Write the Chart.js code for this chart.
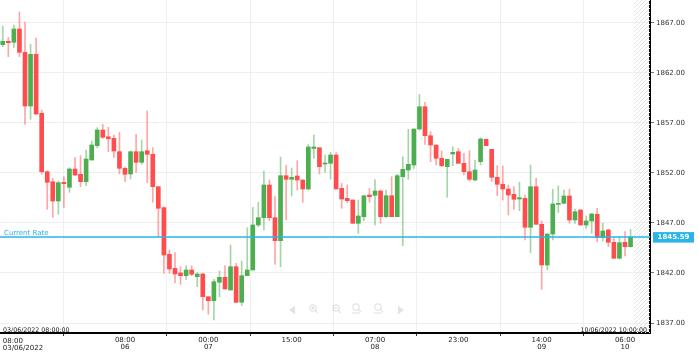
<!DOCTYPE html>
<html><head><meta charset="utf-8">
<script src="https://cdn.jsdelivr.net/npm/chart.js@4/dist/chart.umd.min.js"></script>
<style>html,body{margin:0;padding:0;background:#fff;overflow:hidden}canvas{display:block}</style>
</head><body>
<canvas id="c" width="699" height="356"></canvas>
<script>
const opens=[1864.83,1865.17,1865.07,1866.40,1864.07,1858.70,1863.87,1857.97,1852.13,1851.13,
1849.20,1851.07,1850.57,1852.40,1851.87,1851.13,1853.30,1854.73,1856.30,1855.63,
1855.47,1854.13,1852.47,1851.90,1854.13,1853.07,1854.23,1853.87,1850.63,1848.53,
1843.87,1842.47,1842.00,1841.73,1842.30,1841.63,1841.90,1839.63,1839.23,1841.07,
1841.57,1840.30,1842.63,1839.07,1841.73,1842.30,1846.80,1847.53,1850.80,1847.53,
1845.23,1851.73,1851.37,1851.70,1851.30,1850.40,1854.45,1854.53,1852.90,1852.97,
1853.80,1850.47,1849.47,1849.30,1846.97,1847.63,1849.80,1849.77,1850.20,1847.63,
1849.73,1847.63,1851.63,1852.30,1852.80,1856.40,1858.63,1855.73,1854.80,1853.47,
1852.63,1853.90,1854.13,1852.97,1852.13,1851.30,1853.13,1855.37,1854.37,1851.57,
1850.87,1850.40,1849.87,1849.40,1849.47,1846.57,1850.63,1846.87,1842.80,1845.90,
1848.87,1848.97,1849.70,1847.30,1848.30,1846.80,1847.20,1847.87,1845.53,1846.30,
1845.07,1843.47,1845.07,1844.63];
const highs=[1866.70,1865.57,1866.80,1868.10,1867.10,1864.87,1865.50,1858.30,1852.20,1851.47,
1851.20,1851.63,1852.53,1853.53,1853.73,1854.30,1855.20,1856.53,1856.87,1856.57,
1855.80,1856.07,1852.60,1854.20,1855.87,1855.30,1858.20,1854.53,1850.63,1848.63,
1844.30,1844.03,1842.63,1842.73,1842.73,1842.03,1841.97,1839.63,1841.37,1842.20,
1842.73,1844.80,1842.97,1843.20,1846.53,1848.57,1849.07,1852.20,1851.30,1849.63,
1853.60,1852.80,1852.50,1853.23,1851.30,1854.85,1855.80,1854.53,1853.80,1854.07,
1854.03,1850.97,1850.80,1849.30,1849.30,1849.73,1850.47,1851.35,1850.30,1850.30,
1851.63,1851.87,1853.63,1856.37,1856.40,1859.87,1859.07,1856.13,1854.80,1854.20,
1853.37,1854.63,1854.47,1853.97,1854.23,1853.30,1855.53,1855.37,1854.37,1852.73,
1852.70,1850.80,1850.63,1851.07,1849.80,1852.80,1851.47,1847.20,1845.90,1850.37,
1850.70,1850.30,1850.40,1848.40,1848.30,1847.70,1847.97,1848.47,1846.97,1846.40,
1845.47,1845.57,1846.13,1846.37];
const lows=[1864.63,1863.63,1864.57,1863.63,1856.87,1857.37,1857.85,1851.90,1848.37,1847.57,
1847.87,1848.57,1850.07,1851.73,1850.63,1850.73,1853.30,1854.53,1855.47,1854.13,
1853.53,1851.90,1851.13,1851.40,1852.07,1852.87,1851.03,1849.07,1845.63,1841.97,
1841.97,1841.03,1840.87,1841.37,1841.73,1840.63,1838.30,1837.87,1837.30,1839.63,
1840.40,1840.30,1839.07,1838.73,1841.73,1842.30,1846.63,1846.30,1847.23,1842.87,
1842.63,1847.30,1849.70,1850.30,1849.07,1850.30,1853.47,1851.90,1852.07,1851.37,
1850.40,1848.47,1849.03,1846.97,1845.97,1847.23,1849.07,1846.80,1846.97,1847.53,
1847.63,1847.63,1844.73,1851.37,1852.47,1856.30,1854.87,1853.13,1852.80,1852.63,
1849.57,1852.73,1852.97,1851.80,1851.20,1851.20,1852.80,1854.73,1851.13,1849.73,
1849.30,1847.80,1848.37,1848.23,1845.30,1844.03,1846.87,1840.37,1842.30,1845.30,
1848.03,1848.97,1846.97,1846.97,1846.80,1846.47,1845.97,1845.13,1845.20,1844.63,
1843.47,1843.40,1843.70,1844.57];
const closes=[1865.17,1865.03,1866.40,1864.07,1858.70,1863.87,1857.90,1852.13,1851.07,1849.20,
1851.03,1850.93,1852.40,1851.80,1851.13,1853.40,1854.80,1856.30,1855.57,1855.43,
1854.20,1852.47,1851.87,1854.13,1853.07,1854.13,1853.87,1850.63,1848.47,1843.80,
1842.40,1841.90,1841.73,1842.30,1841.87,1841.90,1839.63,1839.23,1841.13,1841.57,
1840.40,1842.63,1839.07,1841.73,1842.30,1846.80,1847.53,1850.80,1847.53,1845.23,
1851.73,1851.37,1851.57,1851.30,1850.40,1854.60,1854.60,1852.63,1853.00,1853.80,
1850.40,1849.40,1849.23,1846.97,1847.70,1849.73,1849.63,1850.20,1847.63,1849.73,
1847.63,1851.73,1852.37,1852.87,1856.40,1858.63,1855.73,1854.80,1853.47,1852.73,
1853.37,1854.07,1852.97,1852.13,1851.37,1852.30,1855.40,1854.73,1851.57,1850.87,
1850.40,1849.80,1849.37,1849.53,1846.57,1850.63,1846.87,1842.80,1845.90,1848.90,
1848.97,1849.70,1847.30,1848.13,1846.80,1847.20,1847.90,1845.53,1846.20,1845.07,
1843.47,1845.03,1844.63,1845.59];

const tickIndex=[0,22,37,52,67,82,97,112];
const tickTime=['08:00','08:00','00:00','15:00','07:00','23:00','14:00','06:00'];
const tickDate=['03/06/2022','06','07','','08','','09','10'];
const yTicks=[1837,1842,1847,1852,1857,1862,1867];
const currentRate=1845.59;
const startLabel='03/06/2022 08:00:00';
const endLabel='10/06/2022 10:00:00';
const rateLabel='Current Rate';
const emptySlots=3;

const UP='#4cae4f', DOWN='#ff4d4d';
const UPW='rgba(76,174,79,0.5)', DOWNW='rgba(255,77,77,0.5)';
const CYAN='#29b4e8';
const FONT='"DejaVu Sans", Verdana, sans-serif';
const n=opens.length;
const isUp=opens.map((o,i)=>closes[i]>=o);
const wickData=opens.map((o,i)=>({x:i,y:[lows[i],highs[i]]}));
const bodyData=opens.map((o,i)=>({x:i,y:[o,closes[i]]}));

function drawMag(ctx,cx,cy,kind){
  ctx.beginPath();ctx.arc(cx-1,cy-1,3.2,0,Math.PI*2);ctx.stroke();
  ctx.beginPath();ctx.moveTo(cx+1.3,cy+1.3);ctx.lineTo(cx+4,cy+4);ctx.stroke();
  if(kind==='+'||kind==='-'){ctx.beginPath();ctx.moveTo(cx-2.8,cy-1);ctx.lineTo(cx+0.8,cy-1);ctx.stroke();}
  if(kind==='+'){ctx.beginPath();ctx.moveTo(cx-1,cy-2.8);ctx.lineTo(cx-1,cy+0.8);ctx.stroke();}
  if(kind==='<>'){ctx.beginPath();ctx.moveTo(cx-5,cy+5);ctx.lineTo(cx+3,cy+5);ctx.stroke();}
}

const extras={
  id:'extras',
  beforeDatasetsDraw(chart){
    const {ctx,chartArea:a,scales:{x}}=chart;
    const x0=x.getPixelForValue(n-0.5)+1;
    ctx.save();
    ctx.beginPath();ctx.rect(x0,a.top,a.right-x0,a.bottom-a.top);ctx.clip();
    ctx.strokeStyle='#e4e4e4';ctx.lineWidth=1;
    const w=a.right-x0;
    for(let k=a.bottom+w+4;k>a.top-4;k-=4){
      ctx.beginPath();ctx.moveTo(x0-1,k);ctx.lineTo(a.right+1,k-w-2);ctx.stroke();
    }
    ctx.restore();
    ctx.save();
    ctx.strokeStyle='rgba(0,0,0,0.11)';ctx.fillStyle='rgba(0,0,0,0.11)';ctx.lineWidth=1.2;
    const iy=310;
    ctx.beginPath();ctx.moveTo(289,iy);ctx.lineTo(295,iy-4.5);ctx.lineTo(295,iy+4.5);ctx.closePath();ctx.fill();
    drawMag(ctx,314,iy-1,'+');
    drawMag(ctx,337,iy-1,'-');
    drawMag(ctx,357,iy-2,'<>');
    drawMag(ctx,379,iy-2,'<>');
    ctx.beginPath();ctx.moveTo(404,iy);ctx.lineTo(398,iy-4.5);ctx.lineTo(398,iy+4.5);ctx.closePath();ctx.fill();
    ctx.restore();
  },
  afterDraw(chart){
    const {ctx,chartArea:a,scales:{x,y}}=chart;
    const yr=y.getPixelForValue(currentRate);
    ctx.save();
    ctx.font='7px '+FONT;
    ctx.fillStyle=CYAN;ctx.textAlign='left';ctx.textBaseline='alphabetic';
    ctx.fillText(rateLabel,4,yr-2);
    ctx.fillStyle=CYAN;
    ctx.fillRect(a.right+3,yr-5,41,10.5);
    ctx.fillStyle='#fff';ctx.font='bold 7px '+FONT;ctx.textBaseline='middle';ctx.textAlign='center';
    ctx.fillText(currentRate.toFixed(2),a.right+3+20.5,yr+0.5);
    ctx.fillStyle='#111';ctx.font='6.3px '+FONT;ctx.textBaseline='alphabetic';
    ctx.textAlign='left';ctx.fillText(startLabel,3,a.bottom-1.5);
    ctx.textAlign='right';ctx.fillText(endLabel,a.right-3,a.bottom-1.5);
    ctx.fillStyle='#222';ctx.font='7px '+FONT;ctx.textAlign='left';ctx.textBaseline='middle';
    const xf=x.getPixelForValue(tickIndex[0]);
    ctx.fillText(tickTime[0],xf,a.bottom+8);
    ctx.fillText(tickDate[0],xf,a.bottom+15);
    ctx.restore();
  }
};

new Chart(document.getElementById('c'),{
  type:'bar',
  data:{datasets:[
    {type:'line',data:[{x:-0.5,y:currentRate},{x:n-0.5+emptySlots,y:currentRate}],
     borderColor:CYAN,borderWidth:1.5,pointRadius:0,order:0},
    {data:bodyData,backgroundColor:isUp.map(u=>u?UP:DOWN),barThickness:4,grouped:false,minBarLength:1,order:1},
    {data:wickData,backgroundColor:isUp.map(u=>u?UPW:DOWNW),barThickness:1,grouped:false,order:2}
  ]},
  options:{
    responsive:false,animation:false,devicePixelRatio:1,
    layout:{padding:0},
    plugins:{legend:{display:false},tooltip:{enabled:false}},
    scales:{
      x:{type:'linear',min:-0.5,max:n-0.5+emptySlots,offset:false,
        afterBuildTicks:s=>{s.ticks=tickIndex.map(v=>({value:v}));},
        afterFit:s=>{s.height=23;s.paddingLeft=0;s.paddingRight=0;},
        ticks:{autoSkip:false,maxRotation:0,padding:1,color:'#222',
          font:{family:FONT,size:7,lineHeight:1},
          callback:(v,i)=>i===0?'':(tickDate[i]?[tickTime[i],tickDate[i]]:tickTime[i])},
        grid:{color:'#efefef',tickColor:'#333',tickLength:3,lineWidth:1},
        border:{display:true,color:'#000',width:2}
      },
      y:{type:'linear',position:'right',min:1836.0,max:1869.3,
        afterBuildTicks:s=>{s.ticks=yTicks.map(v=>({value:v}));},
        afterFit:s=>{s.width=49;s.paddingTop=0;s.paddingBottom=0;},
        ticks:{padding:2,color:'#333',font:{family:FONT,size:7},callback:v=>Number(v).toFixed(2)},
        grid:{color:'#efefef',tickColor:'#777',tickLength:4,lineWidth:1},
        border:{display:true,color:'#000',width:2}
      }
    }
  },
  plugins:[extras]
});
</script>
</body></html>
